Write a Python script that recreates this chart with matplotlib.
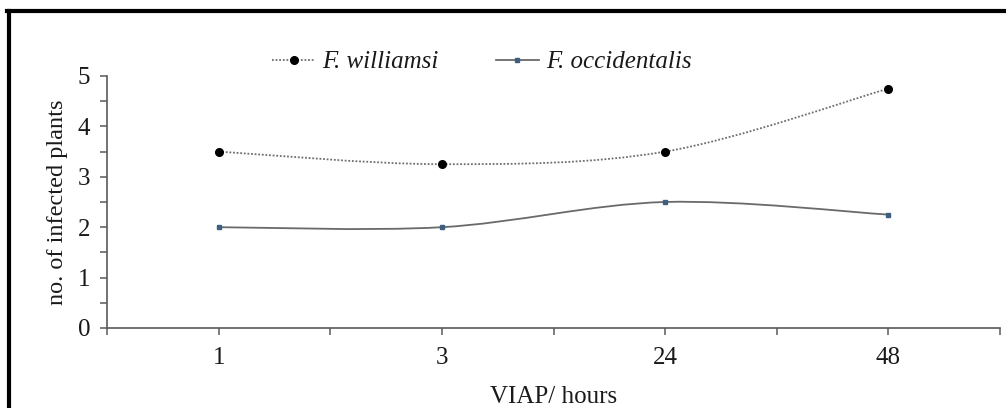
import matplotlib
matplotlib.use("Agg")
import matplotlib.pyplot as plt
from matplotlib.lines import Line2D
from matplotlib.path import Path
from matplotlib.patches import PathPatch
import numpy as np

plt.rcParams['font.family'] = ['Liberation Serif', 'DejaVu Serif']

# data
categories = ['1', '3', '24', '48']
williamsi = [3.5, 3.25, 3.5, 4.75]
occidentalis = [2.0, 2.0, 2.5, 2.25]


def smooth_path(xs, ys):
    """Excel-like smoothed line as cubic bezier path."""
    pts = np.column_stack([xs, ys]).astype(float)
    n = len(pts)
    verts = [pts[0]]
    codes = [Path.MOVETO]
    for i in range(n - 1):
        p0 = pts[max(i - 1, 0)]
        p1 = pts[i]
        p2 = pts[i + 1]
        p3 = pts[min(i + 2, n - 1)]
        c1 = p1 + (p2 - p0) / 6.0
        c2 = p2 - (p3 - p1) / 6.0
        verts += [c1, c2, p2]
        codes += [Path.CURVE4] * 3
    return Path(verts, codes)


W, H = 1006, 408
txt = '#1a1a1a'
fig = plt.figure(figsize=(W / 100, H / 100), dpi=100)
ax = fig.add_axes([107 / W, 1 - 328 / H, (1000 - 107) / W, (328 - 76) / H])

x = np.arange(len(categories))

# curves
ax.add_patch(PathPatch(smooth_path(x, williamsi), fill=False, edgecolor='#6e6e6e',
                       lw=1.3, linestyle=(0, (1, 1))))
ax.add_patch(PathPatch(smooth_path(x, occidentalis), fill=False, edgecolor='#6a6a6a',
                       lw=1.3))
ax.plot(x, williamsi, linestyle='none', marker='o', ms=5.5, color='black')
ax.plot(x, occidentalis, linestyle='none', marker='s', ms=2.2, color='#3f5f80')

ax.set_xlim(-0.5, len(categories) - 0.5)
ax.set_ylim(0, 5)
ax.set_xticks(x)
ax.set_xticklabels(categories)
ax.set_xticks(np.arange(-0.5, len(categories), 1.0), minor=True)
ax.set_yticks(range(0, 6))
ax.set_yticks(np.arange(0.5, 5, 1.0), minor=True)

for side in ['top', 'right']:
    ax.spines[side].set_visible(False)
for side in ['left', 'bottom']:
    ax.spines[side].set_color('#5a5a5a')
    ax.spines[side].set_linewidth(1.2)

ax.tick_params(axis='both', which='both', length=5, width=1.1, color='#5a5a5a',
               direction='out', labelsize=18, labelcolor=txt)
ax.tick_params(axis='x', which='major', pad=9)
ax.tick_params(axis='y', which='major', pad=7)

ax.set_xlabel('VIAP/ hours', fontsize=18, color=txt, labelpad=12)
ax.set_ylabel('no. of infected plants', fontsize=17.5, color=txt, labelpad=7)

handles = [
    Line2D([], [], color='#6e6e6e', lw=1.3, linestyle=(0, (1, 1)),
           marker='o', ms=5.5, mfc='black', mec='black'),
    Line2D([], [], color='#6a6a6a', lw=1.3, marker='s', ms=2.2,
           mfc='#3f5f80', mec='#3f5f80'),
]
fig.legend(handles, ['F. williamsi', 'F. occidentalis'], ncol=2, frameon=False,
           loc='center', bbox_to_anchor=(482 / W, 1 - 62 / H),
           prop={'family': 'Liberation Serif', 'style': 'italic', 'size': 18},
           handlelength=1.7, handletextpad=0.3, columnspacing=2.3,
           labelcolor=txt)

# outer frame (left and top edges visible)
fig.add_artist(Line2D([8.5 / W, 8.5 / W], [0, 1 - 11 / H], color='black', lw=3,
                      transform=fig.transFigure))
fig.add_artist(Line2D([7 / W, 1], [1 - 11 / H, 1 - 11 / H], color='black', lw=3,
                      transform=fig.transFigure))

fig.savefig('out.png', dpi=100)
